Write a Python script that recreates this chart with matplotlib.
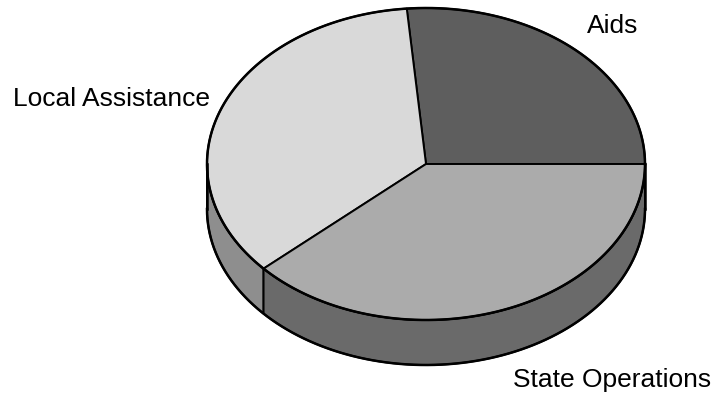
import numpy as np
import matplotlib
matplotlib.use("Agg")
import matplotlib.pyplot as plt
from matplotlib.patches import Polygon

categories = ["Aids", "Local Assistance", "State Operations"]
values = [26.4, 35.3, 38.3]
top_colors = ["#5e5e5e", "#d9d9d9", "#ababab"]
side_colors = ["#4a4a4a", "#8e8e8e", "#6a6a6a"]

W, H = 712, 399
fig = plt.figure(figsize=(W / 100, H / 100), dpi=100)
ax = fig.add_axes([0, 0, 1, 1])
ax.set_xlim(0, W)
ax.set_ylim(H, 0)
ax.axis("off")

cx, cy, a, b, depth = 426, 164, 219, 156, 45


def pt(t, dy=0.0):
    return cx + a * np.cos(t), cy - b * np.sin(t) + dy


fr = np.array(values) / np.sum(values)
bounds = np.concatenate([[0], np.cumsum(fr)]) * 2 * np.pi

# side faces (only the front half, angles between pi and 2pi)
for i in range(len(values)):
    t0, t1 = bounds[i], bounds[i + 1]
    s0, s1 = max(t0, np.pi), min(t1, 2 * np.pi)
    if s1 <= s0:
        continue
    ts = np.linspace(s0, s1, 100)
    xs, ys = pt(ts)
    xb, yb = pt(ts[::-1], depth)
    poly = np.column_stack([np.concatenate([xs, xb]), np.concatenate([ys, yb])])
    ax.add_patch(Polygon(poly, closed=True, facecolor=side_colors[i],
                         edgecolor="black", linewidth=1.4, joinstyle="round"))

# top faces
for i in range(len(values)):
    t0, t1 = bounds[i], bounds[i + 1]
    ts = np.linspace(t0, t1, 200)
    xs, ys = pt(ts)
    poly = np.column_stack([np.concatenate([[cx], xs]), np.concatenate([[cy], ys])])
    ax.add_patch(Polygon(poly, closed=True, facecolor=top_colors[i],
                         edgecolor="black", linewidth=1.4, joinstyle="round"))

# outer outline
tt = np.linspace(0, 2 * np.pi, 400)
ox, oy = pt(tt)
ax.plot(ox, oy, color="black", lw=1.8)
tb = np.linspace(np.pi, 2 * np.pi, 200)
bx, by = pt(tb, depth)
ax.plot(bx, by, color="black", lw=1.8)
for t in [np.pi, 2 * np.pi]:
    x0, y0 = pt(t)
    ax.plot([x0, x0], [y0, y0 + depth], color="black", lw=1.8)

font = dict(family=["Liberation Sans", "DejaVu Sans"], fontsize=19, color="black")
ax.text(587, 33, categories[0], ha="left", va="baseline", **font)
ax.text(13, 106, categories[1], ha="left", va="baseline", **font)
ax.text(513, 387, categories[2], ha="left", va="baseline", **font)

fig.savefig("out.png", dpi=100, facecolor="white")
